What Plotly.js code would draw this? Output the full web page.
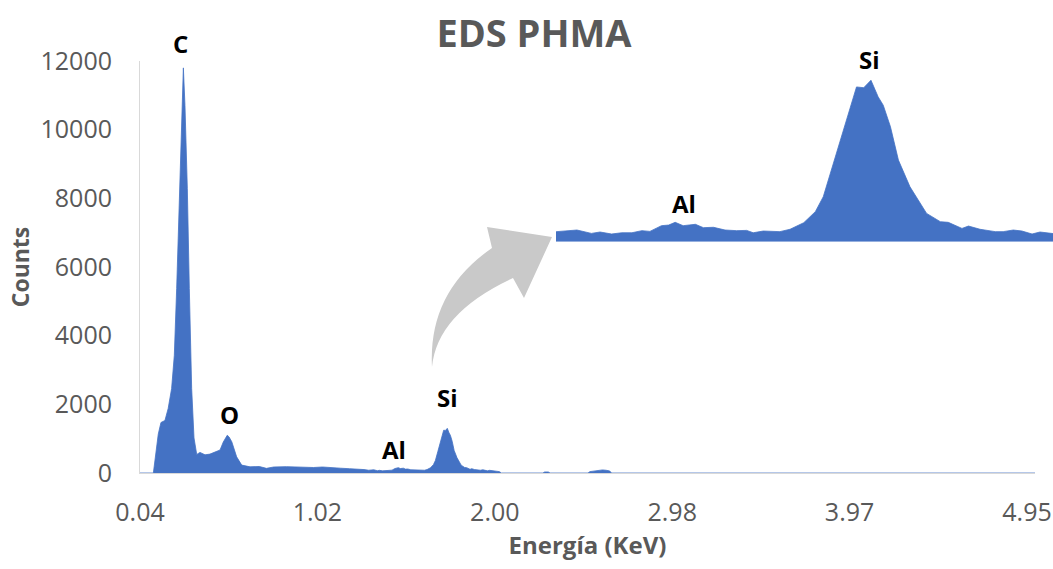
<!DOCTYPE html>
<html>
<head>
<meta charset="utf-8">
<script src="https://cdn.plot.ly/plotly-3.0.1.min.js"></script>
<style>html,body{margin:0;padding:0;background:#fff;}#chart{width:1053px;height:569px;}</style>
</head>
<body>
<div id="chart"></div>
<script>
// Energy (keV) and counts
const energy = [0.04, 0.10, 0.114, 0.141, 0.156, 0.178, 0.196, 0.215, 0.230, 0.243, 0.256, 0.267, 0.280, 0.289, 0.302, 0.313, 0.326, 0.339, 0.354, 0.372, 0.40, 0.427, 0.46, 0.483, 0.501, 0.523, 0.533, 0.548, 0.575, 0.603, 0.649, 0.70, 0.74, 0.78, 0.85, 0.92, 1.00, 1.05, 1.10, 1.15, 1.20, 1.25, 1.28,
  1.306, 1.334, 1.354, 1.366, 1.382, 1.396, 1.410, 1.424, 1.435, 1.451, 1.461, 1.470, 1.481, 1.498, 1.509, 1.523, 1.539, 1.555, 1.569, 1.578, 1.592, 1.615, 1.629, 1.648, 1.664, 1.675, 1.689, 1.703, 1.721, 1.731, 1.741, 1.751, 1.758, 1.768, 1.779, 1.795, 1.818, 1.837, 1.848, 1.867, 1.876, 1.892, 1.913, 1.924, 1.938, 1.950, 1.964, 1.975, 1.993,
  2.01, 2.03, 2.04, 2.27, 2.28, 2.30, 2.31, 2.52, 2.53, 2.57, 2.60, 2.62, 2.64, 2.65, 4.95, 5.10];
const counts = [0, 0, 0, 1130, 1470, 1530, 1880, 2460, 3430, 5370, 7790, 9740, 11800, 10700, 8280, 5370, 2460, 1020, 540, 600, 530, 550, 620, 670, 900, 1100, 1050, 910, 470, 230, 180, 190, 135, 175, 185, 170, 160, 175, 150, 140, 125, 115, 100,
  81, 94, 67, 78, 62, 72, 72, 89, 83, 129, 134, 156, 129, 140, 113, 116, 94, 89, 91, 72, 86, 81, 100, 153, 242, 362, 630, 884, 1246, 1240, 1300, 1166, 1099, 925, 657, 442, 228, 161, 156, 107, 126, 100, 81, 81, 94, 86, 62, 78, 67,
  50, 40, 0, 0, 30, 30, 0, 0, 40, 70, 90, 80, 60, 0, 0, 0];
const tickVals = [0.04, 1.022, 2.004, 2.986, 3.968, 4.95];
const tickText = ["0.04", "1.02", "2.00", "2.98", "3.97", "4.95"];
const peakLabels = ["C", "O", "Al", "Si"];
const insetLabels = ["Al", "Si"];

const W = 1053, H = 569, L = 140, R = 0, T = 61, B = 96;
const pw = W - L - R, ph = H - T - B;
const ax = px => (px - L) / pw;
const ay = py => (H - B - py) / ph;

const blue = '#4472C4';
const gray = '#595959';
const fontFam = 'Open Sans, Lato, sans-serif';

const traces = [
  {x: energy, y: counts, type: 'scatter', mode: 'lines', fill: 'tozeroy',
   fillcolor: blue, line: {color: blue, width: 0.8}, hoverinfo: 'skip', xaxis: 'x', yaxis: 'y'},
  {x: energy, y: counts, type: 'scatter', mode: 'lines', fill: 'tozeroy',
   fillcolor: blue, line: {color: blue, width: 0.8}, hoverinfo: 'skip', xaxis: 'x2', yaxis: 'y2'}
];

const labelPos = [[180, 44], [229, 414], [394, 449], [447, 397]];
const insetPos = [[684, 204], [869, 60]];
const annotations = [];
peakLabels.forEach((t, i) => annotations.push({
  text: t, xref: 'paper', yref: 'paper', x: ax(labelPos[i][0]), y: ay(labelPos[i][1]),
  xanchor: 'center', yanchor: 'middle', showarrow: false,
  font: {family: fontFam, size: 24, color: '#000', weight: 'bold'}
}));
insetLabels.forEach((t, i) => annotations.push({
  text: t, xref: 'paper', yref: 'paper', x: ax(insetPos[i][0]), y: ay(insetPos[i][1]),
  xanchor: 'center', yanchor: 'middle', showarrow: false,
  font: {family: fontFam, size: 24, color: '#000', weight: 'bold'}
}));

function P(px, py) { return ax(px).toFixed(5) + ',' + ay(py).toFixed(5); }
const arrowPath = 'M' + P(432, 367) +
  ' Q' + P(428, 292) + ' ' + P(492, 248) +
  ' L' + P(487, 227) + ' L' + P(552, 237) + ' L' + P(524, 298) + ' L' + P(513, 278) +
  ' Q' + P(437, 313) + ' ' + P(432, 367) + ' Z';

const layout = {
  width: W, height: H,
  margin: {l: L, r: R, t: T, b: B, pad: 0},
  paper_bgcolor: '#fff', plot_bgcolor: 'rgba(0,0,0,0)',
  showlegend: false,
  font: {family: fontFam, color: gray},
  title: {text: 'EDS PHMA', xref: 'container', yref: 'container', x: 534 / W, y: 1 - 34 / H,
          xanchor: 'center', yanchor: 'middle',
          font: {family: fontFam, size: 38, color: gray, weight: 'bold'}},
  xaxis: {domain: [0, 895 / pw], range: [0.04, 0.04 + 895 / 180.65], tickvals: tickVals, ticktext: tickText,
          showline: true, linecolor: '#d9d9d9', linewidth: 1, showgrid: false, zeroline: false, ticks: '',
          ticklabelstandoff: 17, tickfont: {size: 25, color: gray, family: fontFam},
          title: {text: 'Energía (KeV)', standoff: 8, font: {size: 24, color: gray, family: fontFam, weight: 'bold'}},
          anchor: 'y'},
  yaxis: {domain: [0, 1], range: [0, 12000], dtick: 2000, tickformat: 'd',
          showline: true, linecolor: '#d9d9d9', linewidth: 1, showgrid: false, zeroline: false, ticks: '',
          ticklabelstandoff: 22, tickfont: {size: 25, color: gray, family: fontFam},
          title: {text: 'Counts', standoff: 4, font: {size: 23, color: gray, family: fontFam, weight: 'bold'}},
          anchor: 'x'},
  xaxis2: {domain: [ax(556), 1], range: [1.305, 1.993], visible: false, anchor: 'y2'},
  yaxis2: {domain: [ay(241.7), ay(80)], range: [0, 1302], visible: false, anchor: 'x2'},
  annotations: annotations,
  shapes: [{type: 'path', xref: 'paper', yref: 'paper', path: arrowPath,
            fillcolor: '#c9c9c9', line: {width: 0}, layer: 'above'}]
};

Plotly.newPlot('chart', traces, layout, {staticPlot: true, displayModeBar: false});
</script>
</body>
</html>
